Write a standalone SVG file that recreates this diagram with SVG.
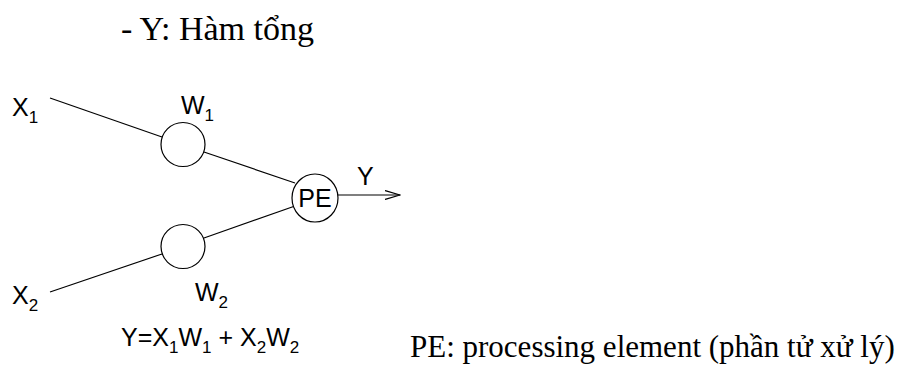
<svg xmlns="http://www.w3.org/2000/svg" width="915" height="374" viewBox="0 0 915 374">
<style>
.serif{font-family:"Liberation Serif","Times New Roman",serif;fill:#000}
.sans{font-family:"Liberation Sans",Arial,sans-serif;fill:#000;font-size:25px}
.sub{font-size:17px}
.ln{stroke:#000;stroke-width:1.2;fill:none}
.nd{stroke:#000;stroke-width:1.2;fill:#fff}
</style>
<defs>
<marker id="open" viewBox="0 0 16 10" refX="15" refY="5" markerWidth="16" markerHeight="10" markerUnits="userSpaceOnUse" orient="auto">
<path d="M0,0.5 L15,5 L0,9.5" fill="none" stroke="#000" stroke-width="1.2"/>
</marker>
</defs>
<rect width="915" height="374" fill="#fff"/>
<text class="serif" x="121" y="40" font-size="34">- Y: Hàm tổng</text>
<g id="connectors">
<line class="ln" x1="50" y1="98" x2="162" y2="137"/>
<line class="ln" x1="204" y1="152" x2="295" y2="183"/>
<line class="ln" x1="50" y1="292" x2="162" y2="254"/>
<line class="ln" x1="204" y1="238" x2="295" y2="206"/>
<line class="ln" x1="338" y1="195" x2="400" y2="195" marker-end="url(#open)"/>
</g>
<g id="x1"><text class="sans" x="12" y="116">X<tspan class="sub" dy="7">1</tspan></text></g>
<g id="x2"><text class="sans" x="12" y="304">X<tspan class="sub" dy="7">2</tspan></text></g>
<g id="w1"><circle class="nd" cx="183" cy="144.5" r="22"/><text class="sans" x="181" y="114">W<tspan class="sub" dy="7">1</tspan></text></g>
<g id="w2"><circle class="nd" cx="183" cy="246.5" r="22"/><text class="sans" x="195" y="301">W<tspan class="sub" dy="7">2</tspan></text></g>
<g id="pe"><ellipse class="nd" cx="315" cy="198" rx="23" ry="24"/><text class="sans" x="315" y="207" text-anchor="middle">PE</text></g>
<g id="y-label"><text class="sans" x="357" y="185">Y</text></g>
<g id="formula"><text class="sans" x="121" y="346">Y=X<tspan class="sub" dy="7">1</tspan><tspan dy="-7">W</tspan><tspan class="sub" dy="7">1</tspan><tspan dy="-7"> + X</tspan><tspan class="sub" dy="7">2</tspan><tspan dy="-7">W</tspan><tspan class="sub" dy="7">2</tspan></text></g>
<g id="note"><text class="serif" x="410" y="357" font-size="31">PE: processing element (phần tử xử lý)</text></g>
</svg>
